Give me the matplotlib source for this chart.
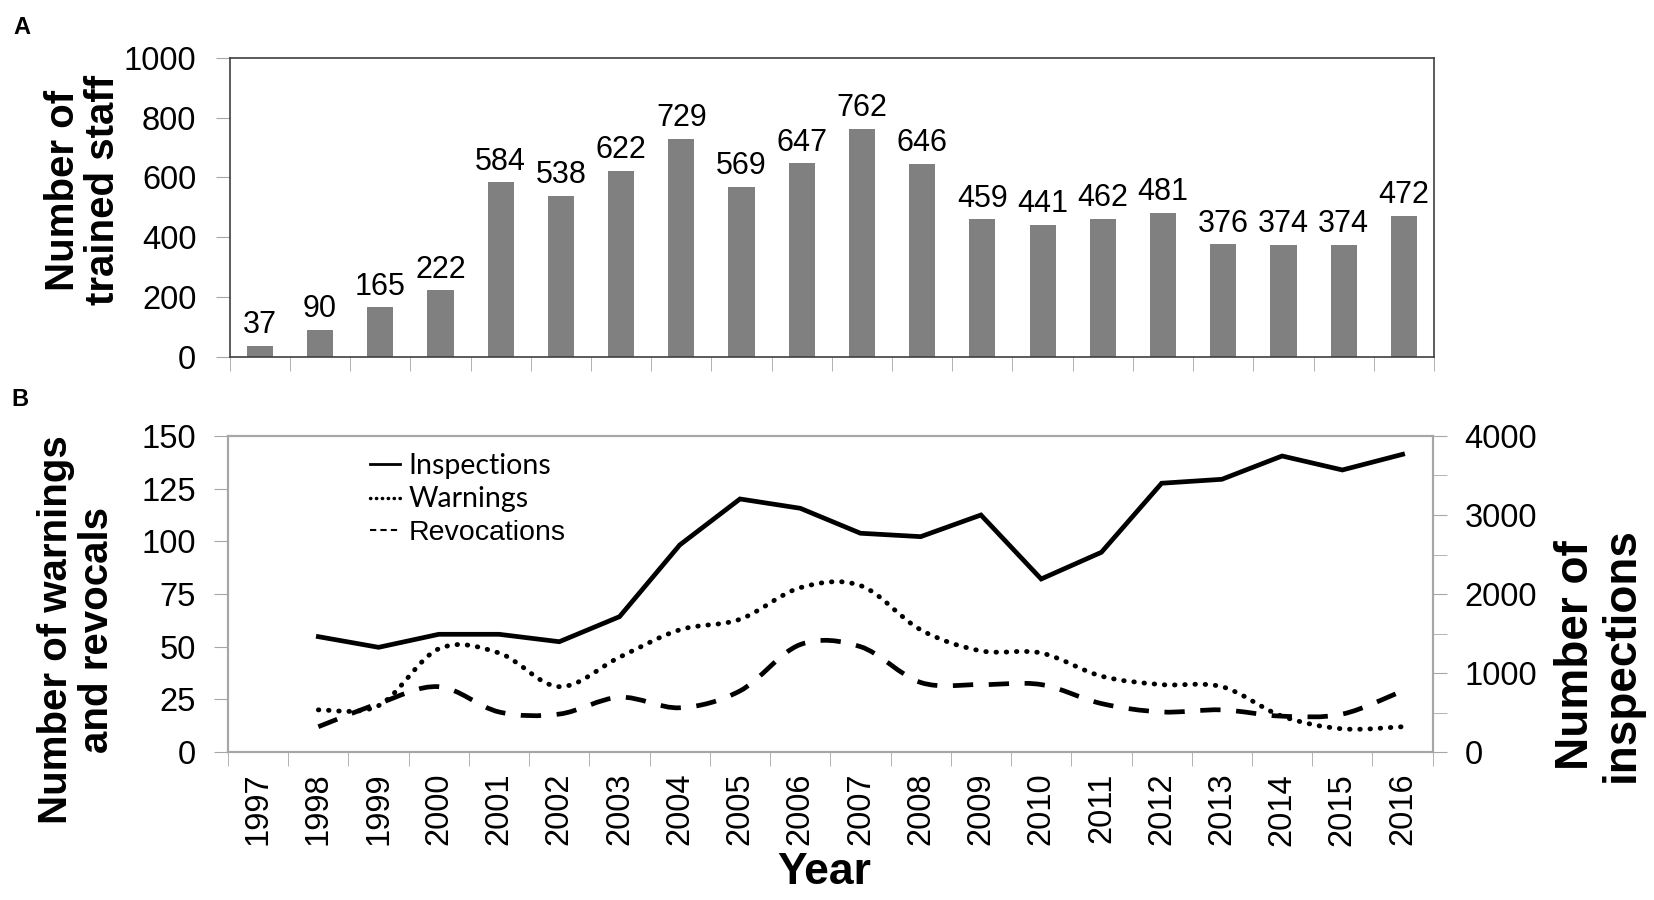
import numpy as np
import matplotlib.pyplot as plt
from matplotlib.path import Path
from matplotlib.patches import PathPatch
from matplotlib.lines import Line2D

plt.rcParams['font.family'] = ['Liberation Sans', 'DejaVu Sans']

# panel A: trained staff per year
years = list(range(1997, 2017))
staff = [37, 90, 165, 222, 584, 538, 622, 729, 569, 647,
         762, 646, 459, 441, 462, 481, 376, 374, 374, 472]

# panel B: series start in 1998
line_years = list(range(1998, 2017))
inspections = [1460, 1325, 1490, 1490, 1396, 1713, 2621, 3203, 3085, 2769,
               2726, 3000, 2190, 2528, 3402, 3452, 3747, 3570, 3768]
warnings = [20, 22, 49, 47, 31, 45, 58, 63, 78, 79,
            58, 48, 47, 36, 32, 31, 17, 11, 12]
revocations = [12, 23, 31, 19, 18, 26, 21, 29, 51, 50,
               33, 32, 32, 23, 19, 20, 17, 18, 29]


def smooth_path(x, y):
    # bezier through the points, like a smoothed spreadsheet line
    x = np.asarray(x, float)
    y = np.asarray(y, float)
    n = len(x)
    verts = [(x[0], y[0])]
    codes = [Path.MOVETO]
    for i in range(n - 1):
        i0 = max(i - 1, 0)
        i3 = min(i + 2, n - 1)
        c1 = (x[i] + (x[i + 1] - x[i0]) / 6, y[i] + (y[i + 1] - y[i0]) / 6)
        c2 = (x[i + 1] - (x[i3] - x[i]) / 6, y[i + 1] - (y[i3] - y[i]) / 6)
        verts += [c1, c2, (x[i + 1], y[i + 1])]
        codes += [Path.CURVE4] * 3
    return Path(verts, codes)


W, H = 1654, 900
fig = plt.figure(figsize=(W / 100, H / 100), dpi=100)

tick_fs = 23.5
grey_spine = '#a6a6a6'

# ---------------- panel A
axA = fig.add_axes([229.7 / W, 1 - 356.7 / H, (1434 - 229.7) / W, (356.7 - 57.7) / H])
pos = np.arange(len(years))
bars = axA.bar(pos, staff, 0.435, color='#808080')
axA.bar_label(bars, padding=4, fontsize=22)
axA.set_xlim(-0.5, len(years) - 0.5)
axA.set_ylim(0, 1000)
axA.set_yticks(range(0, 1001, 200))
axA.set_xticks([])
axA.set_xticks(np.arange(-0.5, len(years)), minor=True)
axA.tick_params(axis='x', which='minor', length=10, color=grey_spine, direction='out')
axA.tick_params(axis='y', labelsize=tick_fs, length=10, color=grey_spine, pad=14)
for s in axA.spines.values():
    s.set_color('#404040')
    s.set_linewidth(1.2)

fig.text(83 / W, 1 - 190 / H, 'Number of\ntrained staff', rotation=90,
         ha='center', va='center', fontsize=29, fontweight='bold',
         multialignment='center', linespacing=1.1)
fig.text(22 / W, 1 - 27 / H, 'A', ha='center', va='center', fontsize=17, fontweight='bold')

# ---------------- panel B
axB = fig.add_axes([228 / W, 1 - 752 / H, (1432.7 - 228) / W, (752 - 436) / H])
axB2 = axB.twinx()

lx = [years.index(y) for y in line_years]
axB2.plot(lx, inspections, color='black', lw=3.4, solid_joinstyle='miter')

warn_patch = PathPatch(smooth_path(lx, warnings), fill=False, edgecolor='black',
                       lw=3.5, linestyle=(0, (0.1, 2.0)), capstyle='round')
rev_patch = PathPatch(smooth_path(lx, revocations), fill=False, edgecolor='black',
                      lw=3.4, linestyle=(0, (4.3, 3.3)))
axB.add_patch(warn_patch)
axB.add_patch(rev_patch)

axB.set_xlim(-0.5, len(years) - 0.5)
axB.set_ylim(0, 150)
axB.set_yticks(range(0, 151, 25))
axB2.set_ylim(0, 4000)
axB2.set_yticks(range(0, 4001, 1000))
axB2.set_yticks(range(500, 4000, 1000), minor=True)

axB.set_xticks(pos)
axB.set_xticklabels([str(y) for y in years], rotation=90, fontsize=tick_fs)
axB.set_xticks(np.arange(-0.5, len(years)), minor=True)
axB.tick_params(axis='x', which='major', length=0, pad=15)
axB.tick_params(axis='x', which='minor', length=10, color=grey_spine)
axB.tick_params(axis='y', labelsize=tick_fs, length=10, color=grey_spine, pad=13)
axB2.tick_params(axis='y', which='both', labelsize=tick_fs, length=10, color=grey_spine, pad=13)
for a in (axB, axB2):
    for s in a.spines.values():
        s.set_color(grey_spine)
        s.set_linewidth(1.5)

handles = [Line2D([], [], color='black', lw=2),
           Line2D([], [], color='black', lw=2.5, linestyle=(0, (0.1, 1.6)), dash_capstyle='round'),
           Line2D([], [], color='black', lw=1.5, linestyle=(0, (3, 2)))]
leg = axB.legend(handles, ['Inspections', 'Warnings', 'Revocations'],
                 loc='upper left', bbox_to_anchor=(0.118, 0.945), frameon=False,
                 borderpad=0, borderaxespad=0, handlelength=1.05, handletextpad=0.3,
                 labelspacing=0.25, prop={'family': 'Lato', 'size': 20.5})
leg.get_texts()[2].set_fontfamily('Liberation Sans')
leg.get_texts()[2].set_fontsize(20.5)

fig.text(77 / W, 1 - 630 / H, 'Number of warnings\nand revocals', rotation=90,
         ha='center', va='center', fontsize=29, fontweight='bold',
         multialignment='center', linespacing=1.1)
fig.text(1599 / W, 1 - 655 / H, 'Number of\ninspections', rotation=90,
         ha='center', va='center', fontsize=33, fontweight='bold',
         multialignment='center', linespacing=1.05)
fig.text(824 / W, 1 - 873 / H, 'Year', ha='center', va='center',
         fontsize=32, fontweight='bold')
fig.text(20 / W, 1 - 400 / H, 'B', ha='center', va='center', fontsize=17, fontweight='bold')

fig.savefig('out.png', dpi=100)
